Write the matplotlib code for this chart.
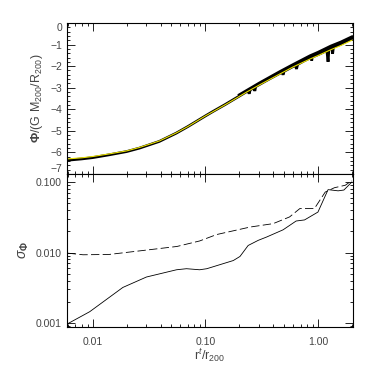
import numpy as np
import matplotlib
matplotlib.use('Agg')
import matplotlib.pyplot as plt
from matplotlib.ticker import AutoMinorLocator, FixedLocator, FixedFormatter, LogLocator, NullFormatter

# Potential profile (black, with scatter dips) and smooth fit (yellow)
phi_x = [0.006, 0.008, 0.01, 0.014, 0.02, 0.026, 0.039, 0.055, 0.07, 0.1, 0.117, 0.15, 0.2,
         0.233, 0.24, 0.245, 0.25, 0.27, 0.275, 0.28, 0.3, 0.36, 0.40, 0.46, 0.48, 0.49, 0.5,
         0.6, 0.63, 0.645, 0.66, 0.75, 0.85, 0.87, 0.88, 0.89, 0.95, 1.0, 1.1, 1.2, 1.23, 1.25,
         1.3, 1.33, 1.35, 1.37, 1.4, 1.6, 2.0]
phi_black = [-6.36, -6.30, -6.24, -6.11, -5.96, -5.80, -5.49, -5.11, -4.80, -4.31, -4.10, -3.78, -3.39,
             -3.18, -3.14, -3.28, -3.10, -3.00, -3.15, -2.95, -2.86, -2.63, -2.50, -2.33, -2.28, -2.40, -2.24,
             -2.02, -1.97, -2.13, -1.92, -1.76, -1.62, -1.60, -1.74, -1.57, -1.52, -1.47, -1.37, -1.27, -1.80, -1.23,
             -1.18, -1.16, -1.42, -1.13, -1.10, -0.98, -0.72]

hi_x = [0.2, 0.3, 0.46, 0.6, 0.85, 1.0, 1.3, 1.6, 2.0]
phi_hi = [-3.33, -2.79, -2.25, -1.93, -1.52, -1.36, -1.07, -0.88, -0.64]

fit_x = [0.006, 0.008, 0.01, 0.014, 0.02, 0.026, 0.039, 0.055, 0.07, 0.1, 0.117, 0.15, 0.233,
         0.3, 0.46, 0.6, 0.85, 1.0, 1.3, 1.6, 2.0]
phi_fit = [-6.30, -6.25, -6.19, -6.07, -5.93, -5.77, -5.47, -5.10, -4.80, -4.31, -4.11, -3.79, -3.20,
           -2.88, -2.36, -2.04, -1.67, -1.51, -1.24, -1.04, -0.80]

# Scatter sigma: solid and dashed
sig_x = [0.006, 0.0094, 0.0185, 0.030, 0.0555, 0.068, 0.089, 0.103, 0.177, 0.203, 0.24, 0.295,
         0.35, 0.49, 0.64, 0.76, 1.0, 1.23, 1.51, 1.7, 2.0]
sig_solid = [0.00098, 0.00145, 0.0032, 0.0045, 0.0057, 0.0059, 0.0057, 0.0059, 0.0077, 0.0088, 0.0126,
             0.0149, 0.0166, 0.021, 0.028, 0.029, 0.0375, 0.078, 0.075, 0.077, 0.1]

dash_x = [0.006, 0.0082, 0.014, 0.028, 0.056, 0.089, 0.126, 0.25, 0.40, 0.56, 0.69, 0.93, 1.16,
          1.4, 1.75, 2.0]
sig_dash = [0.0098, 0.0093, 0.0094, 0.0107, 0.0122, 0.0146, 0.018, 0.023, 0.0257, 0.032, 0.042,
            0.042, 0.072, 0.083, 0.09, 0.105]

x_ticks = [0.01, 0.1, 1.0]
x_labels = ['0.01', '0.10', '1.00']
phi_ticks = [0, -1, -2, -3, -4, -5, -6, -7]
phi_labels = ['0', '\u22121', '\u22122', '\u22123', '\u22124', '\u22125', '\u22126', '\u22127']
sig_ticks = [0.001, 0.01, 0.1]
sig_labels = ['0.001', '0.010', '0.100']

plt.rcParams['font.family'] = ['Liberation Sans', 'DejaVu Sans']
plt.rcParams['mathtext.fontset'] = 'custom'
plt.rcParams['mathtext.rm'] = 'Liberation Sans'
plt.rcParams['mathtext.it'] = 'Liberation Sans:italic'
plt.rcParams['mathtext.bf'] = 'Liberation Sans:bold'
tcol = '#444444'

fig = plt.figure(figsize=(3.74, 3.74), dpi=100)
ax1 = fig.add_axes([0.179, 0.5348, 0.765, 0.4037])
ax2 = fig.add_axes([0.179, 0.1257, 0.765, 0.4091])


def style(ax):
    ax.tick_params(which='both', direction='in', top=True, right=True, colors='black',
                   labelcolor=tcol, labelsize=7.5, width=0.6)
    ax.tick_params(which='major', length=5.5)
    ax.tick_params(which='minor', length=2.5)
    for s in ax.spines.values():
        s.set_linewidth(0.8)


# Top panel
ax1.plot(hi_x, phi_hi, color='black', lw=2.0, solid_joinstyle='miter')
ax1.plot(phi_x, phi_black, color='black', lw=2.0, solid_joinstyle='miter')
ax1.plot(fit_x, phi_fit, color='#e8e000', lw=0.8)
ax1.set_xscale('log')
ax1.set_xlim(0.0059, 2.05)
ax1.set_ylim(-7, 0)
ax1.yaxis.set_major_locator(FixedLocator(phi_ticks))
ax1.yaxis.set_major_formatter(FixedFormatter(phi_labels))
ax1.yaxis.set_minor_locator(AutoMinorLocator(5))
ax1.xaxis.set_major_locator(FixedLocator(x_ticks))
ax1.xaxis.set_minor_locator(LogLocator(subs=np.arange(2, 10)))
ax1.xaxis.set_major_formatter(NullFormatter())
ax1.xaxis.set_minor_formatter(NullFormatter())
style(ax1)
fig.canvas.draw()
ylabs = ax1.get_yticklabels()
ylabs[0].set_va('top')
ylabs[-1].set_va('bottom')
ax1.set_ylabel(r'$\mathbf{\Phi}$/(G M$_{200}$/R$_{200}$)', fontsize=9, color=tcol, labelpad=4)

# Bottom panel
ax2.plot(sig_x, sig_solid, color='black', lw=0.6)
ax2.plot(dash_x, sig_dash, color='black', lw=0.6, dashes=(10, 4))
ax2.set_xscale('log')
ax2.set_yscale('log')
ax2.set_xlim(0.0059, 2.05)
ax2.set_ylim(0.00088, 0.13)
ax2.xaxis.set_major_locator(FixedLocator(x_ticks))
ax2.xaxis.set_major_formatter(FixedFormatter(x_labels))
ax2.xaxis.set_minor_locator(LogLocator(subs=np.arange(2, 10)))
ax2.xaxis.set_minor_formatter(NullFormatter())
ax2.yaxis.set_major_locator(FixedLocator(sig_ticks))
ax2.yaxis.set_major_formatter(FixedFormatter(sig_labels))
ax2.yaxis.set_minor_locator(LogLocator(subs=np.arange(2, 10)))
ax2.yaxis.set_minor_formatter(NullFormatter())
style(ax2)
ax2.tick_params(axis='x', pad=7)
ax2.set_xlabel(r'r$^t$/r$_{200}$', fontsize=9, color=tcol, labelpad=0)
ax2.set_ylabel(r'$\sigma_\mathbf{\Phi}$', fontsize=10, color=tcol, labelpad=4)

fig.savefig('out.png', dpi=100)
